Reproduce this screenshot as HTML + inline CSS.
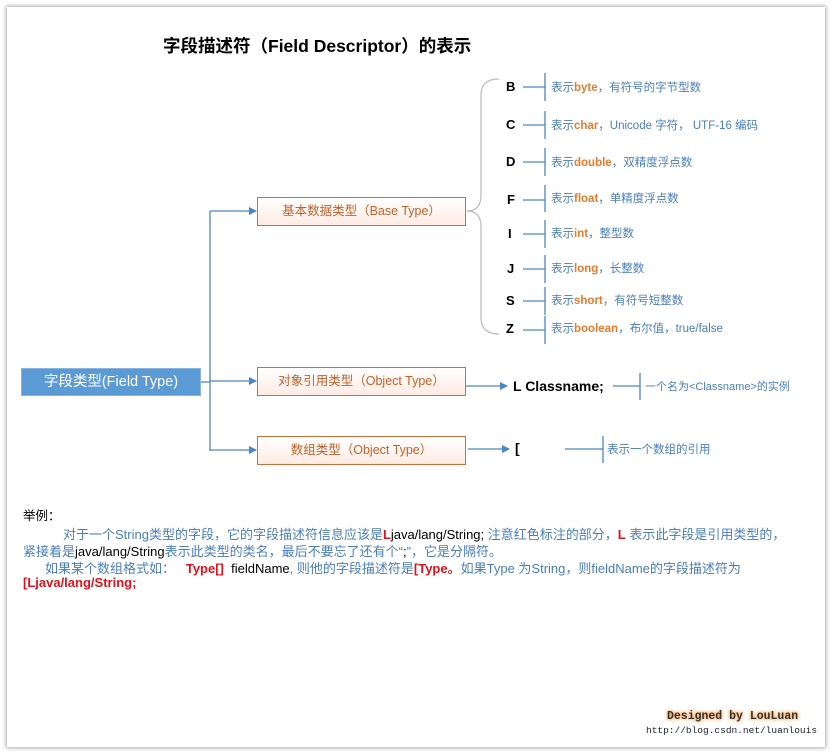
<!DOCTYPE html>
<html><head><meta charset="utf-8"><style>
body{margin:0;width:833px;height:755px;background:#fff;position:relative;overflow:hidden;font-family:"Liberation Sans","Noto Sans CJK SC",sans-serif}
.page{position:absolute;left:7px;top:7px;width:818px;height:740px;background:#fff;box-shadow:0 0 4px 1px rgba(0,0,0,.35)}
.a{position:absolute;white-space:nowrap}
.box{position:absolute;left:257px;width:207px;height:27px;border:1px solid #c8703a;background:linear-gradient(#fff,#fdebe3);color:#c0622a;font-size:12.5px;text-align:center;line-height:27px}
.L{font-weight:bold;font-size:13px;color:#000}
.d{font-size:11.5px;color:#4a7ebb}
.d b{color:#e57b2c}
.t{font-size:13px;color:#4a7ebb}
.r{color:#e0101a;font-weight:bold}
.k{color:#000}
</style></head><body>
<div class="page"></div>
<svg class="a" style="left:0;top:0" width="833" height="755">
<defs><marker id="ar" markerWidth="8" markerHeight="8" refX="7" refY="4" orient="auto" markerUnits="userSpaceOnUse"><path d="M0,0 L8,4 L0,8z" fill="#4a86c8"/></marker></defs>
<g stroke="#4a86c8" stroke-width="1.3" fill="none">
<path d="M201,382 H210"/><path d="M210,211 V451"/>
<path d="M210,211 H256" marker-end="url(#ar)"/>
<path d="M210,381 H256" marker-end="url(#ar)"/>
<path d="M210,450 H256" marker-end="url(#ar)"/>
<path d="M466,386 H507" marker-end="url(#ar)"/>
<path d="M468,449 H509" marker-end="url(#ar)"/>
<path d="M613,386 H640 M640,373 V400"/>
<path d="M565,449 H603 M603,436 V463"/>
<g>
<path d="M523,87 H545 M545,73 V101"/>
<path d="M523,125 H545 M545,111 V139"/>
<path d="M523,162 H545 M545,148 V176"/>
<path d="M523,200 H545 M545,185 V212"/>
<path d="M523,234 H545 M545,220 V248"/>
<path d="M523,269 H545 M545,255 V283"/>
<path d="M523,301 H545 M545,287 V315"/>
<path d="M523,330 H545 M545,316 V344"/>
</g></g>
<path d="M499,79 Q481,79 481,95 V195 Q481,211 467,211 Q481,211 481,227 V318 Q481,334 499,334" stroke="#bbb" stroke-width="1.2" fill="none"/>
</svg>
<div class="a" style="left:163px;top:33px;font-size:17.5px;font-weight:bold">字段描述符（Field Descriptor）的表示</div>
<div class="a" style="left:21px;top:368px;width:180px;height:28px;background:#5b9bd5;border:1px solid #8ab4e0;box-sizing:border-box;color:#fff;font-size:14.5px;text-align:center;line-height:27px">字段类型(Field Type)</div>
<div class="box" style="top:197px">基本数据类型（Base Type）</div>
<div class="box" style="top:367px">对象引用类型（Object Type）</div>
<div class="box" style="top:436px">数组类型（Object Type）</div>
<div class="a L" style="left:506px;top:79px">B</div>
<div class="a L" style="left:506px;top:117px">C</div>
<div class="a L" style="left:506px;top:154px">D</div>
<div class="a L" style="left:507px;top:192px">F</div>
<div class="a L" style="left:508px;top:226px">I</div>
<div class="a L" style="left:507px;top:261px">J</div>
<div class="a L" style="left:506px;top:293px">S</div>
<div class="a L" style="left:506px;top:321px">Z</div>
<div class="a d" style="left:551px;top:79px">表示<b>byte</b>，有符号的字节型数</div>
<div class="a d" style="left:551px;top:117px">表示<b>char</b>，Unicode 字符， UTF-16 编码</div>
<div class="a d" style="left:551px;top:154px">表示<b>double</b>，双精度浮点数</div>
<div class="a d" style="left:551px;top:190px">表示<b>float</b>，单精度浮点数</div>
<div class="a d" style="left:551px;top:225px">表示<b>int</b>，整型数</div>
<div class="a d" style="left:551px;top:260px">表示<b>long</b>，长整数</div>
<div class="a d" style="left:551px;top:292px">表示<b>short</b>，有符号短整数</div>
<div class="a d" style="left:551px;top:320px">表示<b>boolean</b>，布尔值，true/false</div>
<div class="a" style="left:513px;top:378px;font-size:14px;font-weight:bold">L Classname;</div>
<div class="a d" style="left:645px;top:378px;font-size:11px">一个名为&lt;Classname&gt;的实例</div>
<div class="a" style="left:515px;top:440px;font-size:14px;font-weight:bold">[</div>
<div class="a d" style="left:607px;top:441px">表示一个数组的引用</div>
<div class="a" style="left:23px;top:505px;font-size:12.5px">举例：</div>
<div class="a t" style="left:63px;top:524px">对于一个String类型的字段，它的字段描述符信息应该是<span class="r">L</span><span class="k">java/lang/String;</span> 注意红色标注的部分，<span class="r">L</span> 表示此字段是引用类型的，</div>
<div class="a t" style="left:23px;top:541px">紧接着是<span class="k">java/lang/String</span>表示此类型的类名，最后不要忘了还有个“<span class="k">;</span>”，它是分隔符。</div>
<div class="a t" style="left:45px;top:558px">如果某个数组格式如：&nbsp;&nbsp; <span class="r">Type[]</span>&nbsp; <span class="k">fieldName</span>, 则他的字段描述符是<span class="r">[Type。</span>如果Type 为String，则fieldName的字段描述符为</div>
<div class="a r" style="left:23px;top:575px;font-size:13px">[Ljava/lang/String;</div>
<div class="a" style="left:667px;top:710px;font-family:'Liberation Mono',monospace;font-weight:bold;font-size:11.5px;color:#333;text-shadow:0 0 3px #f7a04a,0 0 4px #f7a04a">Designed by LouLuan</div>
<div class="a" style="left:646px;top:725px;font-family:'Liberation Mono',monospace;font-size:9.5px;color:#223">http://blog.csdn.net/luanlouis</div>
</body></html>
